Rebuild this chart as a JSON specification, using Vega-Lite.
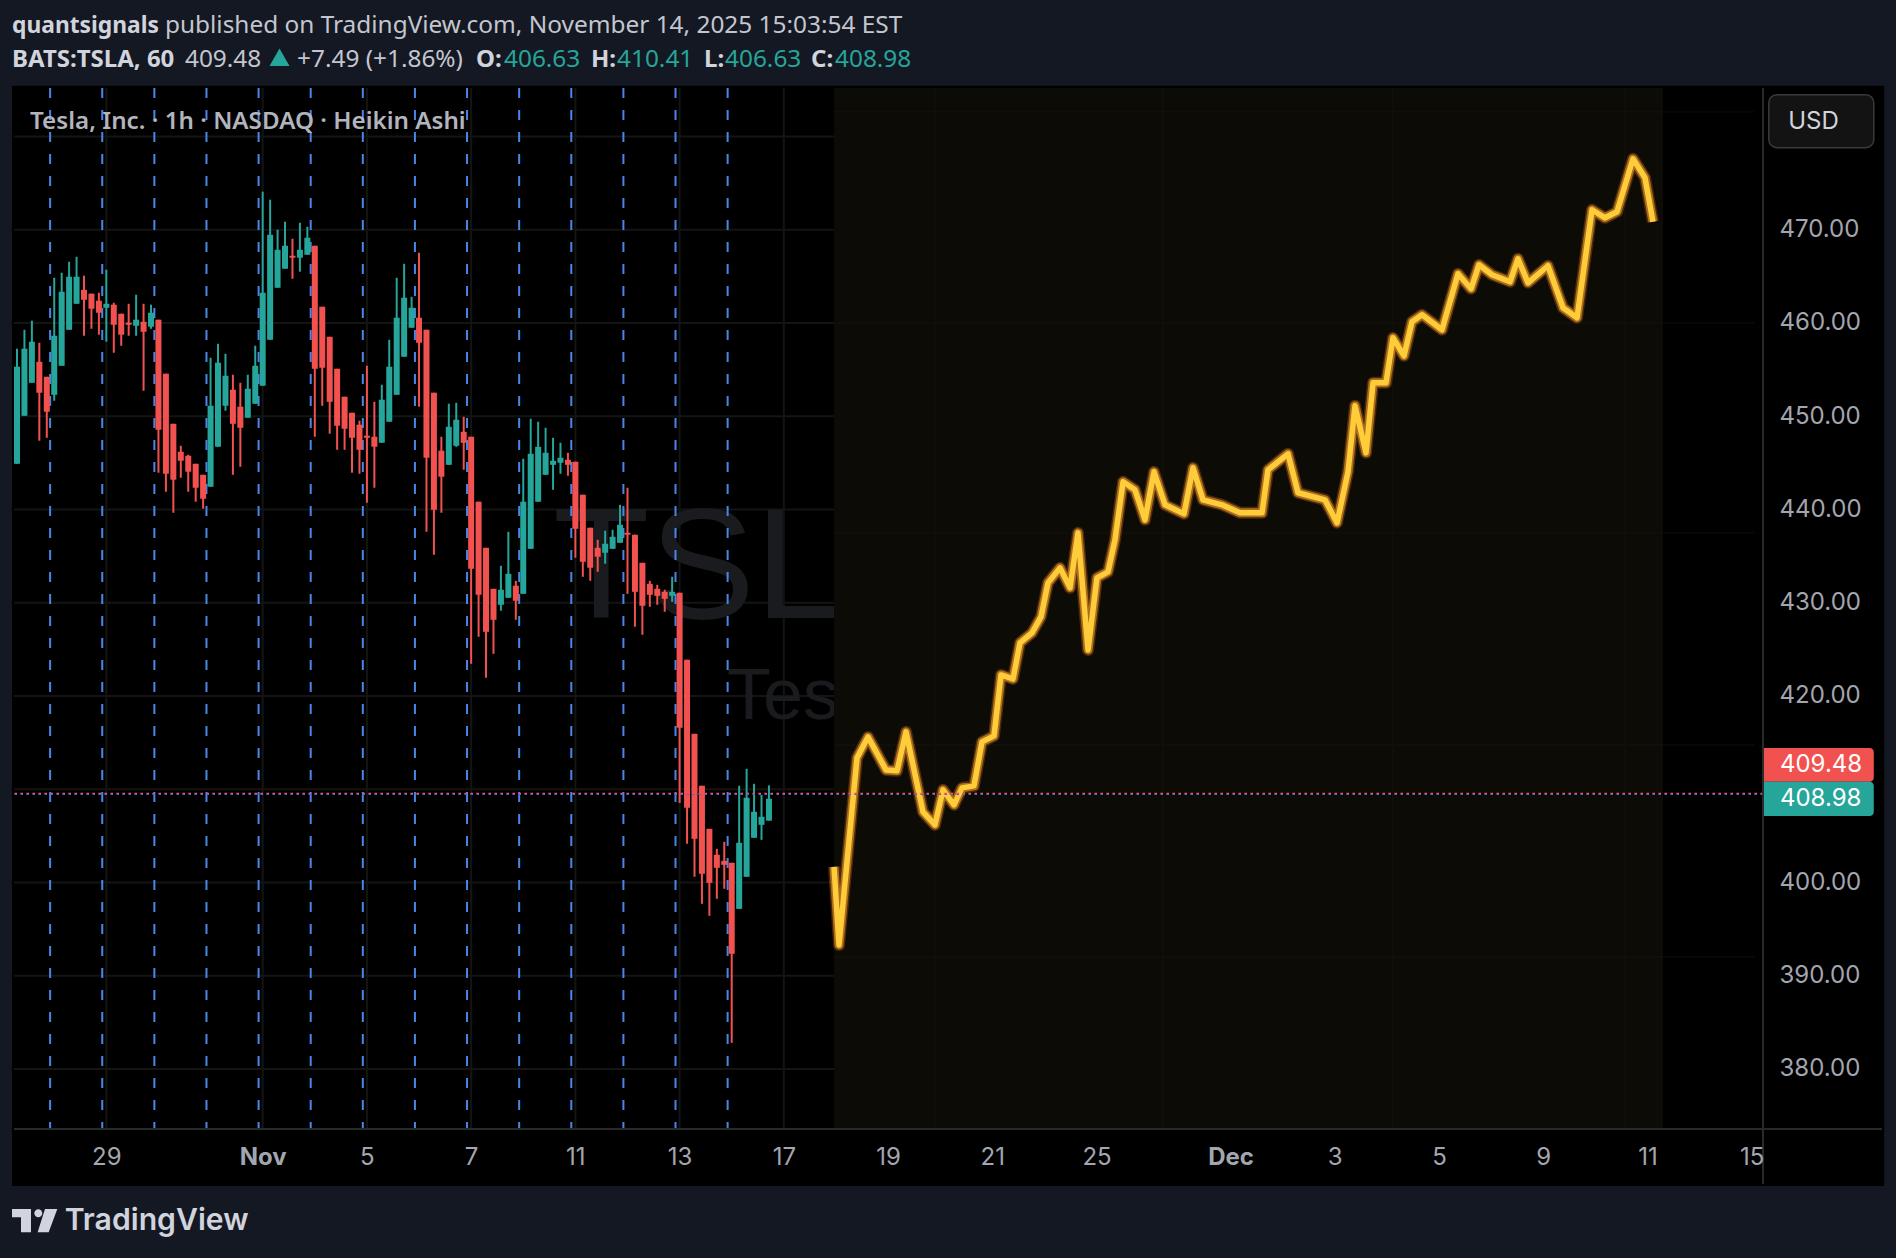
{
  "$schema": "https://vega.github.io/schema/vega-lite/v6.json",
  "description": "TSLA 1h Heikin Ashi candles with a hand drawn forecast path",
  "width": 1749,
  "height": 1041,
  "autosize": {"type": "none"},
  "padding": {"left": 14, "top": 88, "right": 133, "bottom": 129},
  "background": "#141823",
  "config": {"view": {"stroke": null}, "text": {"font": "Noto Sans"}},
  "resolve": {"axis": {"x": "independent", "y": "independent"}, "scale": {"color": "independent"}},
  "datasets": {
    "candles": [
      {"slot":0,"open":444.90,"high":457.24,"low":444.90,"close":455.31},
      {"slot":1,"open":450.05,"high":459.27,"low":450.05,"close":457.24},
      {"slot":2,"open":453.59,"high":460.24,"low":453.59,"close":457.99},
      {"slot":3,"open":455.84,"high":457.88,"low":447.37,"close":452.52},
      {"slot":4,"open":454.23,"high":454.23,"low":447.69,"close":450.48},
      {"slot":5,"open":452.30,"high":464.85,"low":451.66,"close":458.63},
      {"slot":6,"open":455.41,"high":465.39,"low":455.41,"close":463.35},
      {"slot":7,"open":459.27,"high":466.57,"low":459.27,"close":464.96},
      {"slot":8,"open":462.06,"high":467.10,"low":462.06,"close":464.96},
      {"slot":9,"open":463.56,"high":465.07,"low":458.63,"close":462.49},
      {"slot":10,"open":463.14,"high":463.14,"low":459.38,"close":461.53},
      {"slot":11,"open":462.39,"high":463.24,"low":458.74,"close":461.10},
      {"slot":12,"open":461.63,"high":465.71,"low":457.99,"close":462.06},
      {"slot":13,"open":461.96,"high":462.17,"low":456.81,"close":459.81},
      {"slot":14,"open":460.99,"high":460.99,"low":457.56,"close":458.74},
      {"slot":15,"open":460.03,"high":462.06,"low":458.63,"close":459.81},
      {"slot":16,"open":459.70,"high":463.03,"low":458.63,"close":460.35},
      {"slot":17,"open":460.13,"high":462.06,"low":452.73,"close":459.06},
      {"slot":18,"open":459.60,"high":461.96,"low":459.38,"close":461.10},
      {"slot":19,"open":460.35,"high":460.35,"low":443.94,"close":448.55},
      {"slot":20,"open":454.56,"high":454.56,"low":441.90,"close":443.83},
      {"slot":21,"open":449.19,"high":449.19,"low":439.65,"close":443.19},
      {"slot":22,"open":446.19,"high":446.83,"low":443.40,"close":445.23},
      {"slot":23,"open":445.76,"high":445.87,"low":441.90,"close":444.05},
      {"slot":24,"open":444.90,"high":444.90,"low":440.83,"close":442.33},
      {"slot":25,"open":443.72,"high":443.72,"low":440.08,"close":441.15},
      {"slot":26,"open":442.44,"high":456.27,"low":442.44,"close":451.12},
      {"slot":27,"open":446.73,"high":457.77,"low":446.73,"close":455.74},
      {"slot":28,"open":451.12,"high":456.70,"low":450.59,"close":454.34},
      {"slot":29,"open":452.84,"high":454.45,"low":443.72,"close":449.19},
      {"slot":30,"open":451.02,"high":453.59,"low":444.58,"close":448.76},
      {"slot":31,"open":449.84,"high":454.45,"low":449.84,"close":452.95},
      {"slot":32,"open":451.34,"high":457.56,"low":451.34,"close":455.41},
      {"slot":33,"open":453.27,"high":474.08,"low":453.27,"close":463.24},
      {"slot":34,"open":458.20,"high":473.22,"low":458.20,"close":469.46},
      {"slot":35,"open":463.78,"high":470.00,"low":463.78,"close":467.85},
      {"slot":36,"open":465.82,"high":470.86,"low":465.82,"close":468.28},
      {"slot":37,"open":467.21,"high":469.03,"low":464.74,"close":467.00},
      {"slot":38,"open":467.00,"high":470.75,"low":465.50,"close":467.85},
      {"slot":39,"open":467.32,"high":470.32,"low":467.32,"close":469.14},
      {"slot":40,"open":468.28,"high":468.28,"low":447.80,"close":455.09},
      {"slot":41,"open":461.74,"high":461.74,"low":451.12,"close":455.20},
      {"slot":42,"open":458.52,"high":458.52,"low":448.12,"close":451.55},
      {"slot":43,"open":455.09,"high":455.09,"low":446.40,"close":448.98},
      {"slot":44,"open":452.09,"high":452.09,"low":446.40,"close":448.66},
      {"slot":45,"open":450.37,"high":450.37,"low":443.94,"close":447.69},
      {"slot":46,"open":449.09,"high":449.52,"low":443.83,"close":446.40},
      {"slot":47,"open":447.91,"high":455.41,"low":440.72,"close":447.69},
      {"slot":48,"open":447.80,"high":451.55,"low":442.33,"close":446.73},
      {"slot":49,"open":447.16,"high":453.38,"low":447.16,"close":451.77},
      {"slot":50,"open":449.41,"high":458.20,"low":449.41,"close":455.31},
      {"slot":51,"open":452.30,"high":464.85,"low":452.30,"close":460.56},
      {"slot":52,"open":456.38,"high":466.35,"low":456.38,"close":462.71},
      {"slot":53,"open":459.49,"high":462.81,"low":459.49,"close":461.63},
      {"slot":54,"open":460.56,"high":467.53,"low":451.02,"close":457.88},
      {"slot":55,"open":459.27,"high":459.27,"low":437.61,"close":445.54},
      {"slot":56,"open":452.52,"high":452.52,"low":435.14,"close":439.97},
      {"slot":57,"open":446.30,"high":447.80,"low":439.65,"close":443.51},
      {"slot":58,"open":444.79,"high":451.34,"low":444.79,"close":448.87},
      {"slot":59,"open":446.83,"high":451.44,"low":446.72,"close":449.62},
      {"slot":60,"open":448.33,"high":449.94,"low":444.26,"close":447.15},
      {"slot":61,"open":447.80,"high":447.80,"low":423.45,"close":433.64},
      {"slot":62,"open":440.83,"high":440.83,"low":426.35,"close":430.85},
      {"slot":63,"open":435.89,"high":435.89,"low":421.95,"close":426.88},
      {"slot":64,"open":431.49,"high":431.49,"low":424.52,"close":428.17},
      {"slot":65,"open":429.78,"high":433.96,"low":429.14,"close":431.39},
      {"slot":66,"open":430.53,"high":437.61,"low":430.53,"close":433.10},
      {"slot":67,"open":431.82,"high":432.35,"low":428.17,"close":430.21},
      {"slot":68,"open":430.96,"high":445.44,"low":430.96,"close":440.83},
      {"slot":69,"open":435.78,"high":449.73,"low":435.78,"close":445.97},
      {"slot":70,"open":440.83,"high":449.41,"low":440.83,"close":446.72},
      {"slot":71,"open":443.72,"high":448.76,"low":443.72,"close":446.08},
      {"slot":72,"open":444.79,"high":447.69,"low":442.11,"close":445.22},
      {"slot":73,"open":445.01,"high":447.15,"low":443.83,"close":445.54},
      {"slot":74,"open":445.33,"high":446.08,"low":443.61,"close":444.79},
      {"slot":75,"open":445.12,"high":445.12,"low":434.82,"close":437.93},
      {"slot":76,"open":441.58,"high":441.58,"low":432.78,"close":434.39},
      {"slot":77,"open":438.04,"high":438.04,"low":432.35,"close":433.75},
      {"slot":78,"open":435.89,"high":436.75,"low":433.32,"close":434.93},
      {"slot":79,"open":435.36,"high":437.72,"low":434.18,"close":436.32},
      {"slot":80,"open":435.78,"high":437.82,"low":435.78,"close":437.07},
      {"slot":81,"open":436.43,"high":440.50,"low":436.43,"close":438.36},
      {"slot":82,"open":437.50,"high":442.33,"low":430.96,"close":437.29},
      {"slot":83,"open":437.29,"high":437.29,"low":427.42,"close":431.17},
      {"slot":84,"open":434.28,"high":434.28,"low":426.56,"close":429.67},
      {"slot":85,"open":432.03,"high":432.35,"low":429.56,"close":430.85},
      {"slot":86,"open":431.49,"high":431.92,"low":429.78,"close":430.74},
      {"slot":87,"open":431.17,"high":431.39,"low":429.03,"close":430.42},
      {"slot":88,"open":430.74,"high":432.78,"low":430.10,"close":431.17},
      {"slot":89,"open":431.07,"high":431.07,"low":408.54,"close":416.59},
      {"slot":90,"open":423.88,"high":423.88,"low":404.15,"close":408.01},
      {"slot":91,"open":415.94,"high":415.94,"low":400.61,"close":404.68},
      {"slot":92,"open":410.37,"high":410.37,"low":397.71,"close":400.93},
      {"slot":93,"open":405.75,"high":405.75,"low":396.42,"close":399.96},
      {"slot":94,"open":402.97,"high":403.61,"low":398.25,"close":401.57},
      {"slot":95,"open":402.32,"high":404.36,"low":399.32,"close":401.89},
      {"slot":96,"open":402.11,"high":402.11,"low":382.80,"close":392.35},
      {"slot":97,"open":397.17,"high":410.37,"low":397.17,"close":404.25},
      {"slot":98,"open":400.61,"high":412.19,"low":400.61,"close":409.08},
      {"slot":99,"open":404.79,"high":410.58,"low":404.79,"close":407.58},
      {"slot":100,"open":406.18,"high":409.40,"low":404.57,"close":407.04},
      {"slot":101,"open":406.63,"high":410.41,"low":406.63,"close":408.98}
    ],
    "forecast": [
      {"slot":109.74,"price":401.67},{"slot":110.41,"price":393.30},{"slot":112.83,"price":413.36},{"slot":114.31,"price":415.61},
      {"slot":116.72,"price":412.07},{"slot":118.20,"price":411.97},{"slot":119.41,"price":416.15},{"slot":121.69,"price":407.57},
      {"slot":123.30,"price":406.17},{"slot":124.38,"price":409.93},{"slot":125.86,"price":408.32},{"slot":126.93,"price":410.14},
      {"slot":128.54,"price":410.36},{"slot":129.62,"price":415.08},{"slot":131.23,"price":415.72},{"slot":132.17,"price":422.26},
      {"slot":133.78,"price":421.83},{"slot":134.72,"price":425.70},{"slot":136.33,"price":426.77},{"slot":137.54,"price":428.48},
      {"slot":138.48,"price":432.13},{"slot":140.09,"price":433.74},{"slot":141.44,"price":431.60},{"slot":142.51,"price":437.49},
      {"slot":143.86,"price":424.94},{"slot":145.06,"price":432.67},{"slot":146.54,"price":433.31},{"slot":147.48,"price":436.74},
      {"slot":148.56,"price":442.97},{"slot":150.17,"price":442.11},{"slot":151.51,"price":438.89},{"slot":152.72,"price":444.04},
      {"slot":154.20,"price":440.50},{"slot":156.75,"price":439.53},{"slot":157.96,"price":444.47},{"slot":159.30,"price":441.03},
      {"slot":161.85,"price":440.50},{"slot":164.27,"price":439.64},{"slot":167.23,"price":439.64},{"slot":168.03,"price":444.25},
      {"slot":170.72,"price":445.97},{"slot":172.06,"price":441.79},{"slot":175.69,"price":441.03},{"slot":177.30,"price":438.57},
      {"slot":178.78,"price":444.04},{"slot":179.72,"price":451.12},{"slot":181.20,"price":446.08},{"slot":182.14,"price":453.59},
      {"slot":183.88,"price":453.59},{"slot":184.82,"price":458.41},{"slot":186.30,"price":456.48},{"slot":187.37,"price":460.13},
      {"slot":188.72,"price":460.88},{"slot":191.40,"price":459.27},{"slot":193.55,"price":465.28},{"slot":195.30,"price":463.67},
      {"slot":196.37,"price":466.24},{"slot":198.12,"price":465.17},{"slot":200.54,"price":464.42},{"slot":201.61,"price":466.89},
      {"slot":202.95,"price":464.31},{"slot":205.64,"price":466.14},{"slot":207.66,"price":461.63},{"slot":209.54,"price":460.56},
      {"slot":211.55,"price":472.14},{"slot":213.30,"price":471.28},{"slot":214.91,"price":471.93},{"slot":217.06,"price":477.61},
      {"slot":218.67,"price":475.58},{"slot":219.74,"price":470.86}
    ]
  },
  "layer": [
    {
      "data": {"values": [{"slot": -0.67, "slot2": 250.8, "price": 485.45, "price2": 367.45}]},
      "mark": {"type": "rect", "color": "#000000", "clip": false},
      "encoding": {
        "x": {"field": "slot", "type": "quantitative", "title": null, "scale": {"domain": [-0.403, 234.52], "nice": false, "zero": false},
          "axis": {"orient": "bottom", "zindex": 1, "grid": false, "domain": false, "ticks": false, "labelFont": "Inter", "labelFontSize": 24, "labelColor": "#a3a6af", "labelPadding": 16, "labelOverlap": false, "labelFlush": false, "labelBound": false,
            "values": [12, 33, 47, 61, 75, 89, 103, 117, 131, 145, 163, 177, 191, 205, 219, 233],
            "labelExpr": "{'12':'29','33':'Nov','47':'5','61':'7','75':'11','89':'13','103':'17','117':'19','131':'21','145':'25','163':'Dec','177':'3','191':'5','205':'9','219':'11','233':'15'}[datum.value]",
            "labelFontWeight": {"condition": {"test": "datum.value == 33 || datum.value == 163", "value": 700}, "value": 400}}},
        "x2": {"field": "slot2"},
        "y": {"field": "price", "type": "quantitative", "title": null, "scale": {"domain": [373.56, 485.2], "nice": false, "zero": false},
          "axis": {"orient": "right", "zindex": 1, "grid": false, "domain": false, "ticks": false, "labelFont": "Inter", "labelFontSize": 24, "labelColor": "#a3a6af", "labelPadding": 16, "labelAlign": "left", "labelOverlap": false, "format": ".2f",
            "values": [380, 390, 400, 420, 430, 440, 450, 460, 470]}},
        "y2": {"field": "price2"}
      }
    },
    {
      "data": {"values": [{"slot":-0.4,"slot2":109.74,"price":380},{"slot":-0.4,"slot2":109.74,"price":390},{"slot":-0.4,"slot2":109.74,"price":400},{"slot":-0.4,"slot2":109.74,"price":410},{"slot":-0.4,"slot2":109.74,"price":420},{"slot":-0.4,"slot2":109.74,"price":430},{"slot":-0.4,"slot2":109.74,"price":440},{"slot":-0.4,"slot2":109.74,"price":450},{"slot":-0.4,"slot2":109.74,"price":460},{"slot":-0.4,"slot2":109.74,"price":470},{"slot":-0.4,"slot2":109.74,"price":480}]},
      "mark": {"type": "rule", "color": "#141414", "strokeWidth": 2},
      "encoding": {
        "x": {"field": "slot", "type": "quantitative", "scale": {"domain": [-0.403, 234.52], "nice": false, "zero": false}, "axis": null},
        "x2": {"field": "slot2"},
        "y": {"field": "price", "type": "quantitative", "scale": {"domain": [373.56, 485.2], "nice": false, "zero": false}, "axis": null}
      }
    },
    {
      "data": {"values": [{"slot":12},{"slot":33},{"slot":47},{"slot":61},{"slot":75},{"slot":89},{"slot":103}]},
      "mark": {"type": "rule", "color": "#141414", "strokeWidth": 2},
      "encoding": {"x": {"field": "slot", "type": "quantitative", "scale": {"domain": [-0.403, 234.52], "nice": false, "zero": false}, "axis": null}}
    },
    {
      "data": {"values": [{"slot": 72.0, "price": 428.38, "label": "TSLA"}]},
      "mark": {"type": "text", "font": "Liberation Sans", "fontSize": 158, "color": "#1a1b1f", "align": "left", "baseline": "alphabetic"},
      "encoding": {
        "x": {"field": "slot", "type": "quantitative", "scale": {"domain": [-0.403, 234.52], "nice": false, "zero": false}, "axis": null},
        "y": {"field": "price", "type": "quantitative", "scale": {"domain": [373.56, 485.2], "nice": false, "zero": false}, "axis": null},
        "text": {"field": "label"}
      }
    },
    {
      "data": {"values": [{"slot": 95.37, "price": 417.54, "label": "Tesla, Inc."}]},
      "mark": {"type": "text", "font": "Liberation Sans", "fontSize": 72, "color": "#1a1b1f", "align": "left", "baseline": "alphabetic"},
      "encoding": {
        "x": {"field": "slot", "type": "quantitative", "scale": {"domain": [-0.403, 234.52], "nice": false, "zero": false}, "axis": null},
        "y": {"field": "price", "type": "quantitative", "scale": {"domain": [373.56, 485.2], "nice": false, "zero": false}, "axis": null},
        "text": {"field": "label"}
      }
    },
    {
      "data": {"values": [{"slot": 109.74, "slot2": 221.1, "price": 485.2, "price2": 373.56}]},
      "mark": {"type": "rect", "color": "#0c0b05"},
      "encoding": {
        "x": {"field": "slot", "type": "quantitative", "scale": {"domain": [-0.403, 234.52], "nice": false, "zero": false}, "axis": null},
        "x2": {"field": "slot2"},
        "y": {"field": "price", "type": "quantitative", "scale": {"domain": [373.56, 485.2], "nice": false, "zero": false}, "axis": null},
        "y2": {"field": "price2"}
      }
    },
    {
      "data": {"values": [{"slot": 109.74, "slot2": 221.1, "price": 482.66},{"slot": 109.74, "slot2": 221.1, "price": 460.02},{"slot": 109.74, "slot2": 221.1, "price": 437.5},{"slot": 109.74, "slot2": 221.1, "price": 414.75},{"slot": 109.74, "slot2": 221.1, "price": 392.0}]},
      "mark": {"type": "rule", "color": "#100f0a", "strokeWidth": 2},
      "encoding": {
        "x": {"field": "slot", "type": "quantitative", "scale": {"domain": [-0.403, 234.52], "nice": false, "zero": false}, "axis": null},
        "x2": {"field": "slot2"},
        "y": {"field": "price", "type": "quantitative", "scale": {"domain": [373.56, 485.2], "nice": false, "zero": false}, "axis": null}
      }
    },
    {
      "data": {"values": [{"slot": 221.1, "slot2": 233.4, "price": 482.66},{"slot": 221.1, "slot2": 233.4, "price": 460.02},{"slot": 221.1, "slot2": 233.4, "price": 437.5},{"slot": 221.1, "slot2": 233.4, "price": 414.75},{"slot": 221.1, "slot2": 233.4, "price": 392.0}]},
      "mark": {"type": "rule", "color": "#070707", "strokeWidth": 2},
      "encoding": {
        "x": {"field": "slot", "type": "quantitative", "scale": {"domain": [-0.403, 234.52], "nice": false, "zero": false}, "axis": null},
        "x2": {"field": "slot2"},
        "y": {"field": "price", "type": "quantitative", "scale": {"domain": [373.56, 485.2], "nice": false, "zero": false}, "axis": null}
      }
    },
    {
      "data": {"values": [{"slot":123.3},{"slot":153.9},{"slot":184.8},{"slot":216}]},
      "mark": {"type": "rule", "color": "#100f0a", "strokeWidth": 2},
      "encoding": {"x": {"field": "slot", "type": "quantitative", "scale": {"domain": [-0.403, 234.52], "nice": false, "zero": false}, "axis": null}}
    },
    {
      "data": {"values": [{"slot":4.45},{"slot":11.45},{"slot":18.45},{"slot":25.45},{"slot":32.45},{"slot":39.45},{"slot":46.45},{"slot":53.45},{"slot":60.45},{"slot":67.45},{"slot":74.45},{"slot":81.45},{"slot":88.45},{"slot":95.45}]},
      "mark": {"type": "rule", "color": "#4a86e8", "strokeWidth": 2, "strokeDash": [10, 12]},
      "encoding": {
        "x": {"field": "slot", "type": "quantitative", "scale": {"domain": [-0.403, 234.52], "nice": false, "zero": false}, "axis": null},
        "y": {"datum": 485.2, "type": "quantitative", "scale": {"domain": [373.56, 485.2], "nice": false, "zero": false}, "axis": null},
        "y2": {"datum": 373.56}
      }
    },
    {
      "data": {"name": "candles"},
      "mark": {"type": "rule", "strokeWidth": 2},
      "encoding": {
        "x": {"field": "slot", "type": "quantitative", "scale": {"domain": [-0.403, 234.52], "nice": false, "zero": false}, "axis": null},
        "y": {"field": "high", "type": "quantitative", "scale": {"domain": [373.56, 485.2], "nice": false, "zero": false}, "axis": null},
        "y2": {"field": "low"},
        "color": {"condition": {"test": "datum.close >= datum.open", "value": "#26a69a"}, "value": "#f2524f"}
      }
    },
    {
      "data": {"name": "candles"},
      "mark": {"type": "rule", "strokeWidth": 6},
      "encoding": {
        "x": {"field": "slot", "type": "quantitative", "scale": {"domain": [-0.403, 234.52], "nice": false, "zero": false}, "axis": null},
        "y": {"field": "open", "type": "quantitative", "scale": {"domain": [373.56, 485.2], "nice": false, "zero": false}, "axis": null},
        "y2": {"field": "close"},
        "color": {"condition": {"test": "datum.close >= datum.open", "value": "#26a69a"}, "value": "#f2524f"}
      }
    },
    {
      "data": {"name": "forecast"},
      "mark": {"type": "line", "color": "#a85a14", "strokeWidth": 12, "opacity": 0.4, "strokeJoin": "round"},
      "encoding": {
        "x": {"field": "slot", "type": "quantitative", "scale": {"domain": [-0.403, 234.52], "nice": false, "zero": false}, "axis": null},
        "y": {"field": "price", "type": "quantitative", "scale": {"domain": [373.56, 485.2], "nice": false, "zero": false}, "axis": null}
      }
    },
    {
      "data": {"name": "forecast"},
      "mark": {"type": "line", "color": "#d88c24", "strokeWidth": 9, "opacity": 0.7, "strokeJoin": "round"},
      "encoding": {
        "x": {"field": "slot", "type": "quantitative", "scale": {"domain": [-0.403, 234.52], "nice": false, "zero": false}, "axis": null},
        "y": {"field": "price", "type": "quantitative", "scale": {"domain": [373.56, 485.2], "nice": false, "zero": false}, "axis": null}
      }
    },
    {
      "data": {"name": "forecast"},
      "mark": {"type": "line", "color": "#ffcc3a", "strokeWidth": 5.5, "strokeJoin": "round"},
      "encoding": {
        "x": {"field": "slot", "type": "quantitative", "scale": {"domain": [-0.403, 234.52], "nice": false, "zero": false}, "axis": null},
        "y": {"field": "price", "type": "quantitative", "scale": {"domain": [373.56, 485.2], "nice": false, "zero": false}, "axis": null}
      }
    },
    {
      "data": {"values": [{"price": 409.45}]},
      "mark": {"type": "rule", "color": "#2962ff", "strokeWidth": 1.5, "strokeDash": [2.5, 3.5]},
      "encoding": {"y": {"field": "price", "type": "quantitative", "scale": {"domain": [373.56, 485.2], "nice": false, "zero": false}, "axis": null}}
    },
    {
      "data": {"values": [{"price": 409.55}]},
      "mark": {"type": "rule", "color": "#f7525f", "strokeWidth": 1.5, "strokeDash": [2.5, 3.5]},
      "encoding": {"y": {"field": "price", "type": "quantitative", "scale": {"domain": [373.56, 485.2], "nice": false, "zero": false}, "axis": null}}
    },
    {
      "data": {"values": [{"slot": 234.52, "price": 485.2, "price2": 367.66}]},
      "mark": {"type": "rule", "color": "#2a2a2a", "strokeWidth": 2, "clip": false},
      "encoding": {
        "x": {"field": "slot", "type": "quantitative", "scale": {"domain": [-0.403, 234.52], "nice": false, "zero": false}, "axis": null},
        "y": {"field": "price", "type": "quantitative", "scale": {"domain": [373.56, 485.2], "nice": false, "zero": false}, "axis": null},
        "y2": {"field": "price2"}
      }
    },
    {
      "data": {"values": [{"slot": -0.4, "slot2": 250.5, "price": 373.56}]},
      "mark": {"type": "rule", "color": "#2a2a2a", "strokeWidth": 2, "clip": false},
      "encoding": {
        "x": {"field": "slot", "type": "quantitative", "scale": {"domain": [-0.403, 234.52], "nice": false, "zero": false}, "axis": null},
        "x2": {"field": "slot2"},
        "y": {"field": "price", "type": "quantitative", "scale": {"domain": [373.56, 485.2], "nice": false, "zero": false}, "axis": null}
      }
    },
    {
      "data": {"values": [{"slot": 235.3, "slot2": 249.4, "price": 484.48, "price2": 478.8}]},
      "mark": {"type": "rect", "color": "#131313", "stroke": "#3a3a3a", "strokeWidth": 1.5, "cornerRadius": 8},
      "encoding": {
        "x": {"field": "slot", "type": "quantitative", "scale": {"domain": [-0.403, 234.52], "nice": false, "zero": false}, "axis": null},
        "x2": {"field": "slot2"},
        "y": {"field": "price", "type": "quantitative", "scale": {"domain": [373.56, 485.2], "nice": false, "zero": false}, "axis": null},
        "y2": {"field": "price2"}
      }
    },
    {
      "data": {"values": [{"slot": 234.65, "slot2": 249.4, "price": 414.43, "price2": 410.79, "dir": "up"}, {"slot": 234.65, "slot2": 249.4, "price": 410.79, "price2": 407.14, "dir": "close"}]},
      "mark": {"type": "rect", "cornerRadiusTopRight": 4, "cornerRadiusBottomRight": 4},
      "encoding": {
        "x": {"field": "slot", "type": "quantitative", "scale": {"domain": [-0.403, 234.52], "nice": false, "zero": false}, "axis": null},
        "x2": {"field": "slot2"},
        "y": {"field": "price", "type": "quantitative", "scale": {"domain": [373.56, 485.2], "nice": false, "zero": false}, "axis": null},
        "y2": {"field": "price2"},
        "color": {"field": "dir", "type": "nominal", "scale": {"domain": ["up", "close"], "range": ["#f2524f", "#26a69a"]}, "legend": null}
      }
    },
    {
      "data": {"values": [
        {"slot": 236.8, "price": 412.61, "label": "409.48", "tone": "white"},
        {"slot": 236.8, "price": 408.96, "label": "408.98", "tone": "white"},
        {"slot": 237.9, "price": 481.6, "label": "USD", "tone": "soft"}
      ]},
      "mark": {"type": "text", "font": "Inter", "fontSize": 24, "align": "left", "baseline": "middle"},
      "encoding": {
        "x": {"field": "slot", "type": "quantitative", "scale": {"domain": [-0.403, 234.52], "nice": false, "zero": false}, "axis": null},
        "y": {"field": "price", "type": "quantitative", "scale": {"domain": [373.56, 485.2], "nice": false, "zero": false}, "axis": null},
        "text": {"field": "label"},
        "color": {"field": "tone", "type": "nominal", "scale": {"domain": ["white", "soft"], "range": ["#ffffff", "#d1d4dc"]}, "legend": null}
      }
    },
    {
      "data": {"values": [{"slot": -0.67, "price": 491.85, "label": "quantsignals"}]},
      "mark": {"type": "text", "fontSize": 22.8, "fontWeight": 700, "color": "#d1d4dc", "align": "left", "baseline": "middle"},
      "encoding": {
        "x": {"field": "slot", "type": "quantitative", "scale": {"domain": [-0.403, 234.52], "nice": false, "zero": false}, "axis": null},
        "y": {"field": "price", "type": "quantitative", "scale": {"domain": [373.56, 485.2], "nice": false, "zero": false}, "axis": null},
        "text": {"field": "label"}
      }
    },
    {
      "data": {"values": [
        {"slot": -0.67, "price": 488.25, "label": "BATS:TSLA, 60"},
        {"slot": 61.65, "price": 488.25, "label": "O:"},
        {"slot": 77.1, "price": 488.25, "label": "H:"},
        {"slot": 92.28, "price": 488.25, "label": "L:"},
        {"slot": 106.65, "price": 488.25, "label": "C:"}
      ]},
      "mark": {"type": "text", "fontSize": 24, "fontWeight": 700, "color": "#d1d4dc", "align": "left", "baseline": "middle"},
      "encoding": {
        "x": {"field": "slot", "type": "quantitative", "scale": {"domain": [-0.403, 234.52], "nice": false, "zero": false}, "axis": null},
        "y": {"field": "price", "type": "quantitative", "scale": {"domain": [373.56, 485.2], "nice": false, "zero": false}, "axis": null},
        "text": {"field": "label"}
      }
    },
    {
      "data": {"values": [
        {"slot": 19.88, "price": 491.85, "label": "published on TradingView.com, November 14, 2025 15:03:54 EST", "tone": "plain"},
        {"slot": 22.56, "price": 488.25, "label": "409.48", "tone": "plain"},
        {"slot": 37.61, "price": 488.25, "label": "+7.49 (+1.86%)", "tone": "plain"},
        {"slot": 65.41, "price": 488.25, "label": "406.63", "tone": "green"},
        {"slot": 80.59, "price": 488.25, "label": "410.41", "tone": "green"},
        {"slot": 95.1, "price": 488.25, "label": "406.63", "tone": "green"},
        {"slot": 109.87, "price": 488.25, "label": "408.98", "tone": "green"}
      ]},
      "mark": {"type": "text", "fontSize": 24.4, "align": "left", "baseline": "middle"},
      "encoding": {
        "x": {"field": "slot", "type": "quantitative", "scale": {"domain": [-0.403, 234.52], "nice": false, "zero": false}, "axis": null},
        "y": {"field": "price", "type": "quantitative", "scale": {"domain": [373.56, 485.2], "nice": false, "zero": false}, "axis": null},
        "text": {"field": "label"},
        "color": {"field": "tone", "type": "nominal", "scale": {"domain": ["plain", "green"], "range": ["#c3c6ce", "#26a69a"]}, "legend": null}
      }
    },
    {
      "data": {"values": [{"slot": 35.26, "price": 488.5}]},
      "mark": {"type": "point", "shape": "triangle-up", "filled": true, "opacity": 1, "size": 400, "color": "#26a69a"},
      "encoding": {
        "x": {"field": "slot", "type": "quantitative", "scale": {"domain": [-0.403, 234.52], "nice": false, "zero": false}, "axis": null},
        "y": {"field": "price", "type": "quantitative", "scale": {"domain": [373.56, 485.2], "nice": false, "zero": false}, "axis": null}
      }
    },
    {
      "data": {"values": [{"slot": 1.75, "price": 481.6, "label": "Tesla, Inc. · 1h · NASDAQ · Heikin Ashi"}]},
      "mark": {"type": "text", "fontSize": 24.2, "fontWeight": 600, "color": "#b2b5be", "align": "left", "baseline": "middle"},
      "encoding": {
        "x": {"field": "slot", "type": "quantitative", "scale": {"domain": [-0.403, 234.52], "nice": false, "zero": false}, "axis": null},
        "y": {"field": "price", "type": "quantitative", "scale": {"domain": [373.56, 485.2], "nice": false, "zero": false}, "axis": null},
        "text": {"field": "label"}
      }
    },
    {
      "data": {"values": [{"slot": 2.35, "price": 363.75}]},
      "mark": {"type": "point", "filled": true, "opacity": 1, "size": 8100, "color": "#d1d4dc",
        "shape": "M-0.5 -0.256H-0.078V0.263H-0.3V-0.07H-0.5ZM0.233 -0.256H0.507L0.315 0.263H0.07ZM-0.004 -0.159A0.089 0.089 0 1 0 0.174 -0.159A0.089 0.089 0 1 0 -0.004 -0.159Z"},
      "encoding": {
        "x": {"field": "slot", "type": "quantitative", "scale": {"domain": [-0.403, 234.52], "nice": false, "zero": false}, "axis": null},
        "y": {"field": "price", "type": "quantitative", "scale": {"domain": [373.56, 485.2], "nice": false, "zero": false}, "axis": null}
      }
    },
    {
      "data": {"values": [{"slot": 6.4, "price": 363.7, "label": "TradingView"}]},
      "mark": {"type": "text", "font": "Inter", "fontSize": 30.2, "fontWeight": 600, "color": "#d1d4dc", "align": "left", "baseline": "middle"},
      "encoding": {
        "x": {"field": "slot", "type": "quantitative", "scale": {"domain": [-0.403, 234.52], "nice": false, "zero": false}, "axis": null},
        "y": {"field": "price", "type": "quantitative", "scale": {"domain": [373.56, 485.2], "nice": false, "zero": false}, "axis": null},
        "text": {"field": "label"}
      }
    }
  ]
}
